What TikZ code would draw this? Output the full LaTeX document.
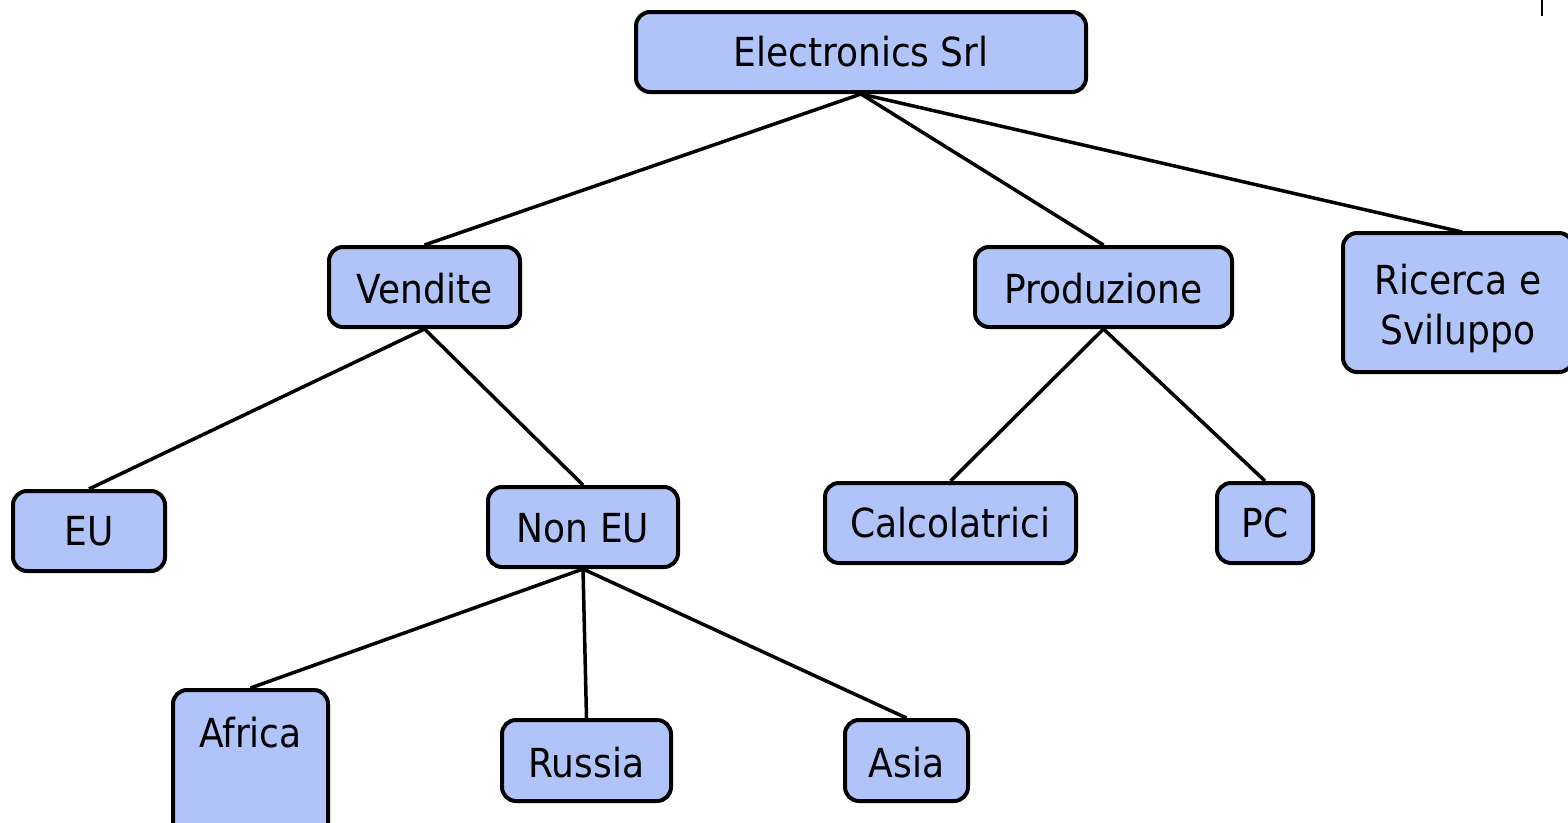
\documentclass[tikz,border=0pt]{standalone}
\usepackage{fontspec}
\setmainfont{DejaVu Sans Condensed}
\definecolor{boxfill}{RGB}{176,196,250}
\newcommand{\lowered}[2]{\raisebox{-#1}[\height][\depth]{#2}}
\tikzset{
  orgbox/.style={draw=black, fill=boxfill, line width=4pt, rounded corners=14pt,
    inner sep=0pt, align=center, font=\fontsize{40}{50}\selectfont},
  link/.style={draw=black, line width=3.5pt}
}
\begin{document}
\begin{tikzpicture}[x=1pt,y=-1pt]
\useasboundingbox (0,0) rectangle (1568,822);
\fill[white] (0,0) rectangle (1568,822);
\node[orgbox, minimum width=450, minimum height=80] (es) at (861,52) {Electronics Srl};
\node[orgbox, minimum width=191, minimum height=80] (ve) at (424.5,287) {\lowered{2pt}{Vendite}};
\node[orgbox, minimum width=257, minimum height=80] (pr) at (1103.5,287) {\lowered{2pt}{Produzione}};
\node[orgbox, minimum width=230, minimum height=139] (rs) at (1458,302.5) {\lowered{7pt}{\begin{tabular}{@{}c@{}}Ricerca e\\Sviluppo\end{tabular}}};
\node[orgbox, minimum width=152, minimum height=80] (eu) at (89,531) {EU};
\node[orgbox, minimum width=190, minimum height=80] (ne) at (583,527) {\lowered{1pt}{Non EU}};
\node[orgbox, minimum width=251, minimum height=80] (ca) at (950.5,523) {Calcolatrici};
\node[orgbox, minimum width=96, minimum height=80] (pc) at (1265,523) {PC};
\node[orgbox, minimum width=155, anchor=north, text height=57pt, text depth=93pt] (af) at (250.5,688) {Africa};
\node[orgbox, minimum width=169, minimum height=81] (ru) at (586.5,760.5) {\lowered{2pt}{Russia}};
\node[orgbox, minimum width=123, minimum height=81] (as) at (906.5,760.5) {\lowered{2pt}{Asia}};
\coordinate (rstop) at (1462,232);
\draw[link] (es.south) -- (ve.north);
\draw[link] (es.south) -- (pr.north);
\draw[link] (es.south) -- (rstop);
\draw[link] (ve.south) -- (eu.north);
\draw[link] (ve.south) -- (ne.north);
\draw[link] (pr.south) -- (ca.north);
\draw[link] (pr.south) -- (pc.north);
\draw[link] (ne.south) -- (af.north);
\draw[link] (ne.south) -- (ru.north);
\draw[link] (ne.south) -- (as.north);
\coordinate (tick) at (1542,0);
\coordinate (tickend) at (1542,16);
\draw[line width=2pt] (tick) -- (tickend);
\end{tikzpicture}
\end{document}
